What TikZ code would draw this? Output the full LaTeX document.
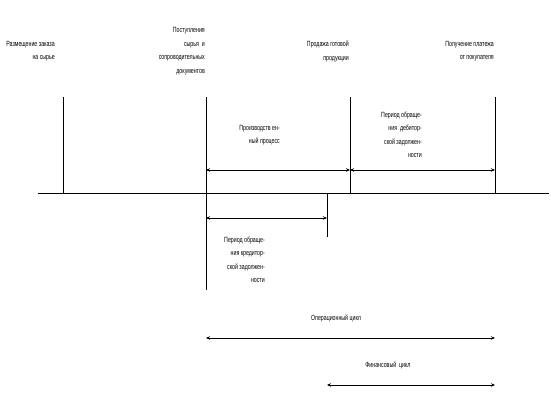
\documentclass[tikz,border=0pt]{standalone}
\usepackage{fontspec}
\setmainfont[FakeStretch=0.7]{Liberation Sans}
\usetikzlibrary{arrows.meta}
\tikzset{
  lbl/.style={inner sep=0pt, align=right, anchor=north east, font=\fontsize{7.5}{13.5}\selectfont},
  clbl/.style={inner sep=0pt, align=center, font=\fontsize{7.5}{13.5}\selectfont},
  ln/.style={line width=0.8pt, draw=black},
  dim/.style={line width=0.8pt, draw=black, {Stealth[length=4pt,width=3.5pt]}-{Stealth[length=4pt,width=3.5pt]}}
}
\begin{document}
\begin{tikzpicture}[x=1pt,y=-1pt]
\useasboundingbox (0,0) rectangle (551,401);
% axis
\coordinate (axL) at (38,193);
\coordinate (axR) at (549,193);
\draw[ln] (axL) -- (axR);
% vertical lines
\coordinate (v1t) at (63,97);   \coordinate (v1b) at (63,193);
\coordinate (v2t) at (206,97);  \coordinate (v2b) at (206,290);
\coordinate (v3t) at (350,97);  \coordinate (v3b) at (350,193);
\coordinate (v4t) at (495,97);  \coordinate (v4b) at (495,193);
\coordinate (v5t) at (327,193); \coordinate (v5b) at (327,237);
\draw[ln] (v1t) -- (v1b);
\draw[ln] (v2t) -- (v2b);
\draw[ln] (v3t) -- (v3b);
\draw[ln] (v4t) -- (v4b);
\draw[ln] (v5t) -- (v5b);
% dimension arrows
\coordinate (a1l) at (206,170); \coordinate (a1r) at (350,170);
\coordinate (a2l) at (350,170); \coordinate (a2r) at (495,170);
\coordinate (a3l) at (206,218); \coordinate (a3r) at (327,218);
\coordinate (a4l) at (206,338); \coordinate (a4r) at (495,338);
\coordinate (a5l) at (327,385); \coordinate (a5r) at (495,385);
\draw[dim] (a1l) -- (a1r);
\draw[dim] (a2l) -- (a2r);
\draw[dim] (a3l) -- (a3r);
\draw[dim] (a4l) -- (a4r);
\draw[dim] (a5l) -- (a5r);
% labels
\node[lbl] (t1) at (55,41) {Размещение заказа\\на сырье};
\node[lbl] (t2) at (205,27.5) {Поступления\\сырья\ \ и\\сопроводительных\\документов};
\node[lbl] (t3) at (349,41) {Продажа готовой\\продукции};
\node[lbl] (t4) at (494,41) {Получение платежа\\от покупателя};
\node[lbl] (t5) at (280,125) {Производств ен-\\ный процесс};
\node[lbl] (t6) at (422,111.5) {Период обраще-\\ния\ \ дебитор-\\ской задолжен-\\ности};
\node[lbl] (t7) at (265,236.5) {Период обраще-\\ния кредитор-\\ской задолжен-\\ности};
\node[clbl] (t8) at (336,318) {Операционный цикл};
\node[clbl] (t9) at (388,365) {Финансовый\ \ цикл};
\end{tikzpicture}
\end{document}
